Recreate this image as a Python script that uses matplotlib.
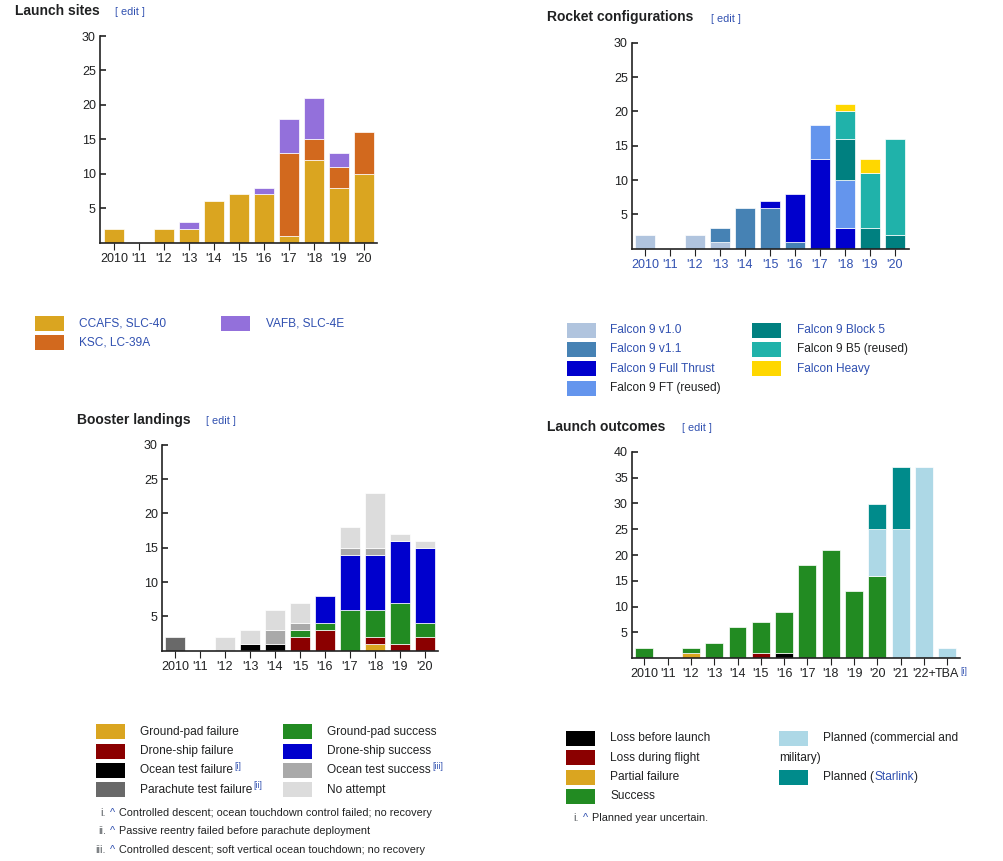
import numpy as np
import matplotlib
matplotlib.use('Agg')
import matplotlib.pyplot as plt
from matplotlib.patches import Rectangle

plt.rcParams['font.family'] = ['Liberation Sans', 'DejaVu Sans']

W, H = 1004, 861
DARK = '#202122'
LINK = '#3050b0'

# Datos
years = ["2010", "'11", "'12", "'13", "'14", "'15", "'16", "'17", "'18", "'19", "'20"]
years_out = years + ["'21", "'22+", "TBA"]

# Launch sites
site_names = ["CCAFS, SLC-40", "KSC, LC-39A", "VAFB, SLC-4E"]
site_colors = ['#DAA520', '#D2691E', '#9370DB']
ccafs = [2, 0, 2, 2, 6, 7, 7, 1, 12, 8, 10]
ksc = [0, 0, 0, 0, 0, 0, 0, 12, 3, 3, 6]
vafb = [0, 0, 0, 1, 0, 0, 1, 5, 6, 2, 0]

# Rocket configurations
rocket_names = ["Falcon 9 v1.0", "Falcon 9 v1.1", "Falcon 9 Full Thrust", "Falcon 9 FT (reused)",
                "Falcon 9 Block 5", "Falcon 9 B5 (reused)", "Falcon Heavy"]
rocket_colors = ['#B0C4DE', '#4682B4', '#0000CD', '#6495ED', '#008080', '#20B2AA', '#FFD700']
rocket_text = [LINK, LINK, LINK, DARK, LINK, DARK, LINK]
v10 = [2, 0, 2, 1, 0, 0, 0, 0, 0, 0, 0]
v11 = [0, 0, 0, 2, 6, 6, 1, 0, 0, 0, 0]
ft = [0, 0, 0, 0, 0, 1, 7, 13, 3, 0, 0]
ft_reused = [0, 0, 0, 0, 0, 0, 0, 5, 7, 0, 0]
b5 = [0, 0, 0, 0, 0, 0, 0, 0, 6, 3, 2]
b5_reused = [0, 0, 0, 0, 0, 0, 0, 0, 4, 8, 14]
heavy = [0, 0, 0, 0, 0, 0, 0, 0, 1, 2, 0]

# Booster landings
land_names = ["Ground-pad failure", "Drone-ship failure", "Ocean test failure", "Parachute test failure",
              "Ground-pad success", "Drone-ship success", "Ocean test success", "No attempt"]
land_sup = ["", "", "[i]", "[ii]", "", "", "[iii]", ""]
land_colors = ['#DAA520', '#8B0000', '#000000', '#696969', '#228B22', '#0000CD', '#A9A9A9', '#DCDCDC']
gp_fail = [0, 0, 0, 0, 0, 0, 0, 0, 1, 0, 0]
ds_fail = [0, 0, 0, 0, 0, 2, 3, 0, 1, 1, 2]
ocean_fail = [0, 0, 0, 1, 1, 0, 0, 0, 0, 0, 0]
para_fail = [2, 0, 0, 0, 0, 0, 0, 0, 0, 0, 0]
gp_succ = [0, 0, 0, 0, 0, 1, 1, 6, 4, 6, 2]
ds_succ = [0, 0, 0, 0, 0, 0, 4, 8, 8, 9, 11]
ocean_succ = [0, 0, 0, 0, 2, 1, 0, 1, 1, 0, 0]
no_attempt = [0, 0, 2, 2, 3, 3, 0, 3, 8, 1, 1]
land_notes = ["Controlled descent; ocean touchdown control failed; no recovery",
              "Passive reentry failed before parachute deployment",
              "Controlled descent; soft vertical ocean touchdown; no recovery"]

# Launch outcomes
out_names = ["Loss before launch", "Loss during flight", "Partial failure", "Success"]
out_colors = ['#000000', '#8B0000', '#DAA520', '#228B22', '#ADD8E6', '#008B8B']
loss_before = [0, 0, 0, 0, 0, 0, 1, 0, 0, 0, 0, 0, 0, 0]
loss_flight = [0, 0, 0, 0, 0, 1, 0, 0, 0, 0, 0, 0, 0, 0]
partial = [0, 0, 1, 0, 0, 0, 0, 0, 0, 0, 0, 0, 0, 0]
success = [2, 0, 1, 3, 6, 6, 8, 18, 21, 13, 16, 0, 0, 0]
planned = [0, 0, 0, 0, 0, 0, 0, 0, 0, 0, 9, 25, 37, 2]
planned_starlink = [0, 0, 0, 0, 0, 0, 0, 0, 0, 0, 5, 12, 0, 0]

fig = plt.figure(figsize=(W / 100, H / 100), dpi=100)
renderer = fig.canvas.get_renderer()


def fx(x):
    return x / W


def fy(y):
    return 1 - y / H


def put_text(x, y, s, color=DARK, size=8.6, **kw):
    return fig.text(fx(x), fy(y), s, color=color, fontsize=size, va='center', **kw)


def after(t, s, color=DARK, size=8.6, dy=0, gap=0):
    # texto pegado a la derecha de otro
    bb = t.get_window_extent(renderer)
    return fig.text((bb.x1 + gap) / W, ((bb.y0 + bb.y1) / 2 + dy) / H, s,
                    color=color, fontsize=size, va='center')


def title(x, y, s, xe):
    put_text(x, y, s, size=10, weight='bold')
    put_text(xe, y + 1, '[ edit ]', color=LINK, size=7.8)


def make_axes(x0, y_top, x1, y_bot, ymax, xlim, labels, label_color):
    ax = fig.add_axes([fx(x0), fy(y_bot), (x1 - x0) / W, (y_bot - y_top) / H])
    ax.set_facecolor('none')
    ax.set_xlim(*xlim)
    ax.set_ylim(0, ymax)
    for s in ['top', 'right']:
        ax.spines[s].set_visible(False)
    for s in ['left', 'bottom']:
        ax.spines[s].set_color('#222222')
        ax.spines[s].set_linewidth(1.2)
    ax.set_yticks(range(5, ymax + 1, 5))
    ax.set_xticks(range(len(labels)))
    ax.set_xticklabels(labels)
    ax.tick_params(axis='y', direction='in', length=4, width=1.2, pad=3,
                   labelsize=9, labelcolor=DARK, color='#222222')
    ax.tick_params(axis='x', direction='out', length=5, width=0.8, pad=2.5,
                   labelsize=9, labelcolor=label_color, color='#222222')
    return ax


def stack(ax, series, colors, width):
    x = np.arange(len(series[0]))
    bottom = np.zeros(len(x))
    for vals, c in zip(series, colors):
        vals = np.asarray(vals, dtype=float)
        m = vals > 0
        ax.bar(x[m], vals[m], width, bottom=bottom[m], color=c,
               edgecolor='white', linewidth=0.5)
        bottom += vals


def patch(x, y, color):
    fig.patches.append(Rectangle((fx(x), fy(y + 7.5)), 29 / W, 15 / H,
                                 transform=fig.transFigure, facecolor=color,
                                 edgecolor='none', figure=fig))


def legend(names, colors, tcolors, cols, rows, sups=None):
    for i, (n, c, tc) in enumerate(zip(names, colors, tcolors)):
        col, row = cols[i // len(rows)], rows[i % len(rows)]
        patch(col[0], row, c)
        t = put_text(col[1], row, n, color=tc)
        if sups and sups[i]:
            after(t, sups[i], color=LINK, size=6.2, dy=4, gap=1)


def footnote(xnum, y, num, s):
    put_text(xnum, y, num, color='#54595d', size=7.8, ha='right')
    put_text(xnum + 4, y, '^', color=LINK, size=7.8)
    put_text(xnum + 13.5, y, s, size=7.8)


# Launch sites
title(15, 11, 'Launch sites', 115)
ax1 = make_axes(100, 36, 377, 242.7, 30, (-0.56, 10.52), years, DARK)
stack(ax1, [ccafs, ksc, vafb], site_colors, 0.8)
legend(site_names, site_colors, [LINK] * 3, [(35, 79), (221, 266)], [323, 342.7])

# Rocket configurations
title(547, 17.5, 'Rocket configurations', 711)
ax2 = make_axes(632, 42.7, 908.7, 248.7, 30, (-0.52, 10.55), years, LINK)
stack(ax2, [v10, v11, ft, ft_reused, b5, b5_reused, heavy], rocket_colors, 0.8)
legend(rocket_names, rocket_colors, rocket_text, [(566.5, 610.5), (752.5, 797.5)],
       [330, 349.4, 368.8, 388.4])

# Booster landings
title(77, 420, 'Booster landings', 206)
ax3 = make_axes(162, 444.7, 438, 650.7, 30, (-0.52, 10.52), years, DARK)
stack(ax3, [gp_fail, ds_fail, ocean_fail, para_fail, gp_succ, ds_succ, ocean_succ, no_attempt],
      land_colors, 0.8)
legend(land_names, land_colors, [DARK] * 8, [(96, 140.5), (282.5, 327.5)],
       [731.7, 751, 770.3, 789.7], land_sup)
for i, (num, note) in enumerate(zip(['i.', 'ii.', 'iii.'], land_notes)):
    footnote(106, 812.7 + i * 18.5, num, note)

# Launch outcomes
title(547, 427, 'Launch outcomes', 682)
ax4 = make_axes(632, 452, 960, 658, 40, (-0.53, 13.55), years_out, DARK)
stack(ax4, [loss_before, loss_flight, partial, success, planned, planned_starlink],
      out_colors, 0.77)
legend(out_names, out_colors[:4], [DARK] * 4, [(566, 610.5)], [738.3, 757.7, 777, 796.3])
patch(778.7, 738.3, out_colors[4])
put_text(823.3, 738.3, 'Planned (commercial and')
put_text(778.7, 757.7, 'military)')
patch(778.7, 777, out_colors[5])
t = put_text(823.3, 777, 'Planned (')
t = after(t, 'Starlink', color=LINK)
after(t, ')')
footnote(579, 818, 'i.', 'Planned year uncertain.')

fig.canvas.draw()
lab = ax4.get_xticklabels()[-1]
bb = lab.get_window_extent(renderer)
fig.text((bb.x1 + 1) / W, (bb.y1 - 3) / H, '[i]', color=LINK, fontsize=6.2, va='center')

fig.savefig('out.png', dpi=100, facecolor='white')
